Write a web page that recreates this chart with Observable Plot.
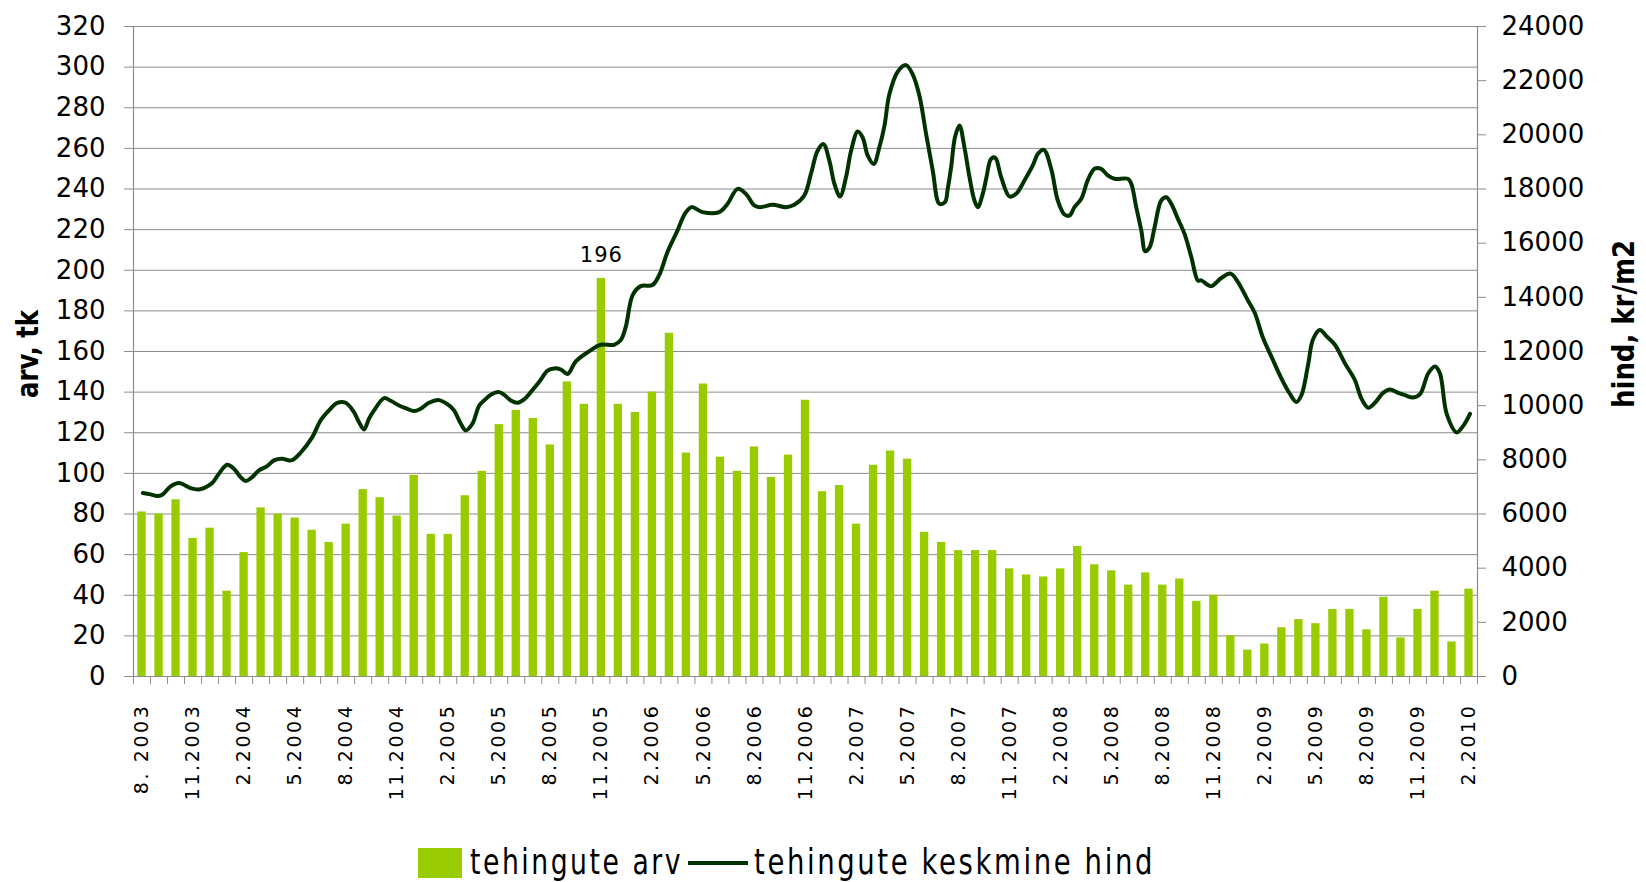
<!DOCTYPE html>
<html>
<head>
<meta charset="utf-8">
<script src="https://cdn.jsdelivr.net/npm/d3@7"></script>
<script src="https://cdn.jsdelivr.net/npm/@observablehq/plot@0.6"></script>
<style>
  body { margin: 0; background: #fff; }
  #wrap { position: relative; width: 1646px; height: 882px; overflow: hidden; background: #fff; }
  #legend { position: absolute; left: 0; top: 0; width: 1646px; height: 882px; pointer-events: none;
            font-family: "DejaVu Sans Condensed", "DejaVu Sans", sans-serif; font-size: 35px; letter-spacing: 3px; color: #000; }
  .sw { position: absolute; }
  .lt { position: absolute; line-height: 1; white-space: nowrap; transform-origin: 0 0; }
</style>
</head>
<body>
<div id="wrap">
  <div id="chart"></div>
  <div id="legend"></div>
</div>
<script>
// ---- data ----
const monthLabels = ["8. 2003","11.2003","2.2004","5.2004","8.2004","11.2004","2.2005","5.2005","8.2005","11.2005",
  "2.2006","5.2006","8.2006","11.2006","2.2007","5.2007","8.2007","11.2007","2.2008","5.2008","8.2008","11.2008",
  "2.2009","5.2009","8.2009","11.2009","2.2010"];

// tehingute arv (number of transactions), monthly 8.2003 .. 2.2010
const counts = [81,80,87,68,73,42,61,83,80,78,72,66,75,92,88,79,99,70,70,89,101,124,131,127,114,145,134,196,134,130,
  140,169,110,144,108,101,113,98,109,136,91,94,75,104,111,107,71,66,62,62,62,53,50,49,53,64,55,52,45,51,45,48,37,40,
  20,13,16,24,28,26,33,33,23,39,19,33,42,17,43];

// tehingute keskmine hind (kr/m2): position in months since 8.2003, and value
const linePos = [0.05,0.50,0.89,1.19,1.68,2.17,2.85,3.34,3.64,4.13,4.52,5.01,5.40,5.79,6.09,6.48,6.87,7.36,7.76,8.25,
  8.54,8.83,9.32,10.01,10.50,10.99,11.48,11.97,12.46,12.75,13.05,13.34,13.64,14.23,14.62,15.11,15.50,15.99,16.38,16.87,
  17.46,18.05,18.34,18.74,19.03,19.42,19.82,20.11,20.50,21.00,21.29,21.68,22.07,22.46,22.85,23.34,23.84,24.23,24.63,25.02,
  25.50,26.27,26.97,27.75,28.15,28.44,28.84,29.32,30.00,30.40,30.89,31.48,31.91,32.30,32.95,33.93,34.42,35.01,35.50,35.99,
  36.32,37.07,37.85,38.34,38.93,39.32,39.71,40.05,40.40,40.70,41.03,41.38,41.68,42.07,42.36,42.66,43.01,43.34,43.64,43.93,
  44.42,44.91,45.30,45.70,46.09,46.48,46.87,47.20,47.36,47.56,47.79,48.05,48.34,48.64,48.93,49.13,49.42,49.62,49.91,50.15,
  50.50,50.99,51.38,51.87,52.36,52.66,53.01,53.44,53.83,54.22,54.52,54.81,55.21,55.60,55.99,56.38,56.77,57.16,57.95,58.15,
  58.44,58.74,58.97,59.23,59.52,59.91,60.21,60.50,60.89,61.28,61.68,62.07,62.26,62.85,63.44,63.99,64.42,65.01,65.40,65.89,
  66.38,66.97,67.46,67.85,68.15,68.54,68.83,69.23,69.62,70.11,70.70,71.29,71.68,72.07,72.46,72.95,73.35,73.84,74.23,74.72,
  75.12,75.61,76.00,76.29,76.69,77.28,77.67,78.06];
const linePrice = [6773,6724,6662,6712,7019,7142,6958,6908,6958,7142,7487,7819,7671,7364,7216,7364,7610,7770,7979,8040,
  7991,7991,8261,8840,9455,9824,10106,10106,9762,9393,9122,9516,9824,10279,10180,10008,9910,9799,9885,10106,
  10205,10008,9824,9332,9086,9332,10008,10193,10402,10500,10402,10193,10106,10229,10500,10872,11292,11376,11328,11172,
  11634,12002,12247,12247,12430,12920,14084,14415,14452,14819,15677,16473,17085,17330,17147,17147,17453,18004,17820,17392,
  17330,17416,17330,17416,17759,18556,19413,19658,19046,18188,17722,18433,19413,20124,19903,19229,18923,19536,20332,21496,
  22329,22574,22231,21434,20026,18678,17453,17514,18006,18807,19916,20347,19546,18438,17575,17329,17822,18376,19115,19152,
  18438,17723,17822,18314,18869,19300,19448,18746,17575,17058,17021,17329,17637,18339,18746,18746,18499,18376,18376,18191,
  17329,16466,15702,15850,16590,17575,17698,17452,16897,16343,15481,14618,14626,14414,14713,14875,14564,13878,13441,12506,
  11820,11010,10449,10137,10386,11508,12444,12793,12568,12257,11571,10947,10261,9925,10099,10473,10598,10473,10386,10299,
  10424,11197,11446,11197,9700,9014,9264,9700];

const leftTicks = [0,20,40,60,80,100,120,140,160,180,200,220,240,260,280,300,320];
const rightTicks = [0,2000,4000,6000,8000,10000,12000,14000,16000,18000,20000,22000,24000];
const annotated = [196];
const seriesNames = ["tehingute arv", "tehingute keskmine hind"];
const axisTitles = ["arv, tk", "hind, kr/m2"];

// ---- build ----
const k = 320 / 24000;   // right axis -> left axis units
const bars = counts.map((v, i) => ({i, v}));
const line = linePos.map((x, j) => ({x, p: linePrice[j]}));
const boundaries = d3.range(counts.length + 1).map(i => i - 0.5);
const labelPos = monthLabels.map((_, j) => j * 3);

const W = 1646, H = 830, bottom = 676;
const barColor = "#99CC00", lineColor = "#003300", grid = "#8c8c8c";

const svg = Plot.plot({
  width: W, height: H,
  marginLeft: 133, marginRight: W - 1477, marginTop: 26, marginBottom: H - bottom,
  style: {fontFamily: "'DejaVu Sans', sans-serif", background: "#fff", color: "#000"},
  x: {domain: [-0.5, counts.length - 0.5]},
  y: {domain: [0, 320]},
  marks: [
    Plot.ruleY(leftTicks, {stroke: grid, strokeWidth: 1}),
    Plot.rect(bars, {x1: d => d.i - 0.245, x2: d => d.i + 0.245, y1: 0, y2: "v", fill: barColor}),
    Plot.line(line, {x: "x", y: d => d.p * k, stroke: lineColor, strokeWidth: 4, curve: "catmull-rom", strokeLinejoin: "round"}),
    Plot.text(bars.filter(d => annotated.includes(d.v)), {x: "i", y: "v", text: d => String(d.v), dy: -23, fontSize: 21, fill: "#000"}),
    Plot.ruleX([-0.5, counts.length - 0.5], {stroke: grid, strokeWidth: 1.2}),
    Plot.axisY({ticks: leftTicks, tickSize: 9, tickPadding: 19, fontSize: 26, stroke: grid, label: null}),
    Plot.axisY({anchor: "right", ticks: rightTicks.map(v => v * k), tickFormat: d => String(Math.round(d / k)),
                tickSize: 8, tickPadding: 16, fontSize: 26, stroke: grid, label: null}),
    Plot.axisX({ticks: boundaries, tickSize: 8, tickFormat: () => "", stroke: grid, label: null}),
    Plot.axisX({ticks: labelPos, tickSize: 0, tickPadding: 27, tickRotate: -90, fontSize: 19,
                tickFormat: d => monthLabels[Math.round(d / 3)], label: null})
  ]
});
const s = d3.select(svg);
s.selectAll("text").filter(function () { return this.textContent === "196"; }).style("letter-spacing", "1px");
s.selectAll("text").filter(function () { return monthLabels.includes(this.textContent); })
  .style("font-size", "19px").style("letter-spacing", "2.6px");

// axis titles (rotated, condensed bold)
const titleSpecs = [{t: axisTitles[0], x: 27, y: 354, len: 88}, {t: axisTitles[1], x: 1623, y: 324, len: 168}];
for (const ts of titleSpecs) {
  s.append("text")
    .attr("transform", `translate(${ts.x},${ts.y}) rotate(-90)`)
    .attr("text-anchor", "middle").attr("dy", "0.36em")
    .attr("font-family", "'DejaVu Sans', sans-serif").attr("font-weight", "bold").attr("font-size", 30)
    .attr("textLength", ts.len).attr("lengthAdjust", "spacingAndGlyphs")
    .attr("fill", "#000").text(ts.t);
}
document.getElementById("chart").appendChild(svg);

// ---- legend (HTML, below the SVG area) ----
const legend = d3.select("#legend");
legend.append("div").attr("class", "sw")
  .style("left", "418px").style("top", "848px").style("width", "44px").style("height", "30px").style("background", barColor);
legend.append("div").attr("class", "sw")
  .style("left", "688px").style("top", "861px").style("width", "60px").style("height", "4px").style("background", lineColor);
const legTexts = [{t: seriesNames[0], x: 470, w: 213}, {t: seriesNames[1], x: 754, w: 401}];
for (const lt of legTexts) {
  const el = legend.append("div").attr("class", "lt").style("left", lt.x + "px").style("top", "845px").text(lt.t);
  const w = el.node().getBoundingClientRect().width;
  if (w > 0) el.style("transform", `scaleX(${lt.w / w})`);
}
</script>
</body>
</html>
